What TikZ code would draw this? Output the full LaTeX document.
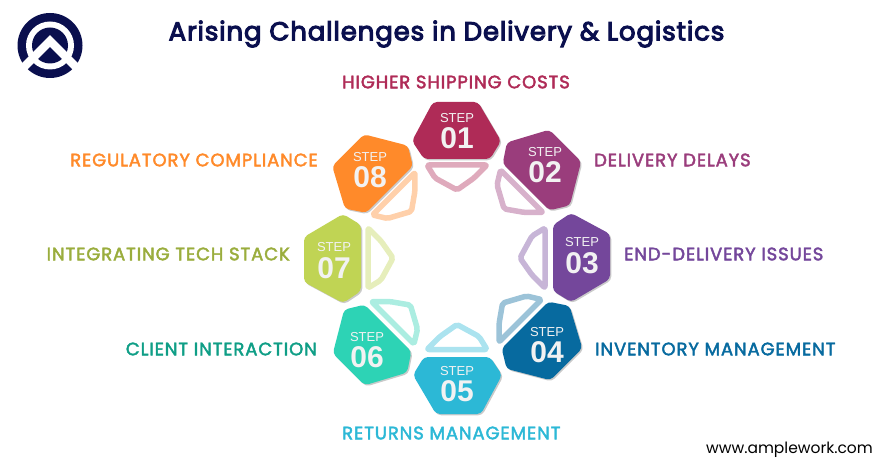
\documentclass[tikz,border=0pt]{standalone}
\usepackage{fontspec}
\setmainfont{Poppins}
\newfontfamily\labelfont[FakeBold=2.4,LetterSpace=5]{Poppins}
\newfontfamily\titlefont[FakeBold=4,LetterSpace=3.3]{Poppins}
\newfontfamily\stepfont{Liberation Sans}
\definecolor{navy}{HTML}{0A0F4E}
\definecolor{c1}{HTML}{AF2B57}
\definecolor{c2}{HTML}{9A3D7C}
\definecolor{c3}{HTML}{74479B}
\definecolor{c4}{HTML}{076A9F}
\definecolor{c5}{HTML}{2CB8D6}
\definecolor{c6}{HTML}{2DD3B5}
\definecolor{c7}{HTML}{C0D454}
\definecolor{c8}{HTML}{FF8A2A}
\definecolor{t6}{HTML}{0F9E86}
\definecolor{t7}{HTML}{9AAD3D}
\definecolor{stepwhite}{HTML}{F2F2F2}
\begin{document}
\begin{tikzpicture}[x=1pt,y=-1pt]
      \tikzstyle{every node}=[inner sep=0pt]
      \tikzstyle{steplabel}=[font=\stepfont\fontsize{13}{13}\selectfont,text=stepwhite]
      \tikzstyle{stepnum}=[font=\stepfont\bfseries\fontsize{30}{30}\selectfont,text=stepwhite]
      \tikzstyle{title}=[font=\labelfont\fontsize{18}{18}\selectfont]
      \useasboundingbox (0,0) rectangle (893,470);

      \foreach \i/\ang/\sx/\sy/\bx/\by in {1/0/0/0/0/0,2/-45/-1/-1/-1/-1,3/-90/-3/0/-5/0,4/-135/-2/-3/-2.5/-3,5/180/0/0/0/-1.5,6/135/1/0/1.5/-1,7/90/3/0/4/0,8/45/2.5/1.5/2.5/1.5} {
        \fill[black!35,opacity=.6,rounded corners=4pt,shift={(\sx+1.3,\sy+1.3)},rotate around={\ang:(457,258)}]
          (433,102) -- (478,102) -- (501,141) -- (490,159) -- (424,159) -- (412,141) -- cycle;
        \fill[c\i,rounded corners=4pt,shift={(\sx,\sy)},rotate around={\ang:(457,258)}]
          (433,102) -- (478,102) -- (501,141) -- (490,159) -- (424,159) -- (412,141) -- cycle;
        \draw[c\i!40!white,line width=5.5pt,line join=round,rounded corners=2pt,shift={(\bx,\by)},rotate around={\ang:(457,258)}]
          (427,165) -- (487,165) -- (474,178) -- (457,190) -- (435,178) -- cycle;
      }

      \node[steplabel] (s1) at (457,118) {STEP};
      \node[stepnum] (n1) at (457,138) {01};
      \node[steplabel] (s2) at (545,152) {STEP};
      \node[stepnum] (n2) at (545,172) {02};
      \node[steplabel] (s3) at (582,242) {STEP};
      \node[stepnum] (n3) at (582,263) {03};
      \node[steplabel] (s4) at (547,332) {STEP};
      \node[stepnum] (n4) at (547,352) {04};
      \node[steplabel] (s5) at (457,371) {STEP};
      \node[stepnum] (n5) at (457,391) {05};
      \node[steplabel] (s6) at (367,337) {STEP};
      \node[stepnum] (n6) at (367,357) {06};
      \node[steplabel] (s7) at (334,247) {STEP};
      \node[stepnum] (n7) at (334,268) {07};
      \node[steplabel] (s8) at (370,157) {STEP};
      \node[stepnum] (n8) at (370,177) {08};

      \node[title,text=c1,anchor=west] (l1) at (342,82) {HIGHER SHIPPING COSTS};
      \node[title,text=c2,anchor=west] (l2) at (594,160) {DELIVERY DELAYS};
      \node[title,text=c3,anchor=west] (l3) at (624,254) {END-DELIVERY ISSUES};
      \node[title,text=c4,anchor=west] (l4) at (595,349) {INVENTORY MANAGEMENT};
      \node[title,text=c5,anchor=west] (l5) at (342,433) {RETURNS MANAGEMENT};
      \node[title,text=t6,anchor=east] (l6) at (317,349) {CLIENT INTERACTION};
      \node[title,text=t7,anchor=east] (l7) at (290,254) {INTEGRATING TECH STACK};
      \node[title,text=c8,anchor=east] (l8) at (318,160) {REGULATORY COMPLIANCE};

      \node[font=\titlefont\fontsize{26}{26}\selectfont,text=navy] (head) at (446.5,34) {Arising Challenges in Delivery \& Logistics};
      \node[font=\fontsize{15.5}{15.5}\selectfont,text=black,anchor=east] (web) at (873,450) {www.amplework.com};

      \fill[navy] (50,45.5) circle (32.5);
      \fill[white] (50,45.5) circle (24);
      \fill[navy] (50,45.5) circle (18);
      \draw[white,line width=8.3pt,miter limit=10] (12,79) -- (50,41) -- (88,79);
\end{tikzpicture}
\end{document}
